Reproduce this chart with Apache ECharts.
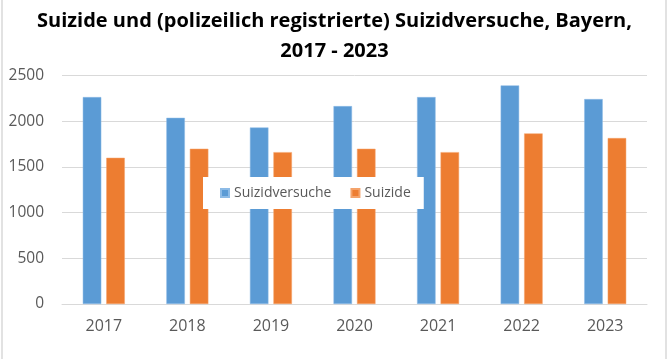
<!DOCTYPE html>
<html><head><meta charset="utf-8">
<script src="https://cdn.jsdelivr.net/npm/echarts@6/dist/echarts.min.js"></script>
<style>html,body{margin:0;padding:0;background:#fff}#c{width:669px;height:359px}</style>
</head><body><div id="c"></div>
<script>
var categories = ['2017','2018','2019','2020','2021','2022','2023'];
var suizidversuche = [2266, 2039, 1933, 2167, 2266, 2394, 2244];
var suizide = [1601, 1700, 1663, 1700, 1663, 1868, 1817];
var yTicks = [0, 500, 1000, 1500, 2000, 2500];
var font = 'Open Sans';
var chart = echarts.init(document.getElementById('c'));
chart.setOption({
  animation: false,
  backgroundColor: '#fff',
  title: {
    text: 'Suizide und (polizeilich registrierte) Suizidversuche, Bayern,\n2017 - 2023',
    left: 'center', top: 1,
    textStyle: { fontFamily: font, fontWeight: 'bold', fontSize: 20, color: '#000', lineHeight: 30 }
  },
  legend: {
    data: ['Suizidversuche', 'Suizide'],
    left: 203, top: 177,
    backgroundColor: '#fff',
    padding: [9, 13, 9, 17],
    itemWidth: 8, itemHeight: 8, itemGap: 19,
    icon: 'rect',
    textStyle: { fontFamily: font, fontSize: 14, color: '#595959' }
  },
  grid: { left: 62, right: 22, top: 75.7, bottom: 55, containLabel: false },
  xAxis: {
    type: 'category', data: categories,
    axisLine: { lineStyle: { color: '#d9d9d9', width: 1 } },
    axisTick: { show: false },
    axisLabel: { fontFamily: font, fontSize: 16, color: '#595959', margin: 14 }
  },
  yAxis: {
    type: 'value', min: yTicks[0], max: yTicks[yTicks.length-1], interval: 500,
    axisLine: { show: false }, axisTick: { show: false },
    splitLine: { lineStyle: { color: '#d9d9d9', width: 1 } },
    axisLabel: { fontFamily: font, fontSize: 15.5, color: '#595959', margin: 18,
      formatter: function (v) { return String(v); } }
  },
  series: [
    { name: 'Suizidversuche', type: 'bar', data: suizidversuche, barWidth: 18.5, barGap: '27%',
      itemStyle: { color: '#5b9bd5', borderColor: '#8dbbe6', borderWidth: 0.5 } },
    { name: 'Suizide', type: 'bar', data: suizide, barWidth: 18.5,
      itemStyle: { color: '#ed7d31', borderColor: '#f4a36b', borderWidth: 0.5 } }
  ],
  graphic: [
    { type: 'rect', shape: { x: 2, y: -2, width: 664, height: 370 }, style: { fill: 'none', stroke: '#d9d9d9', lineWidth: 1.5 }, z: 100 }
  ]
});
</script></body></html>
